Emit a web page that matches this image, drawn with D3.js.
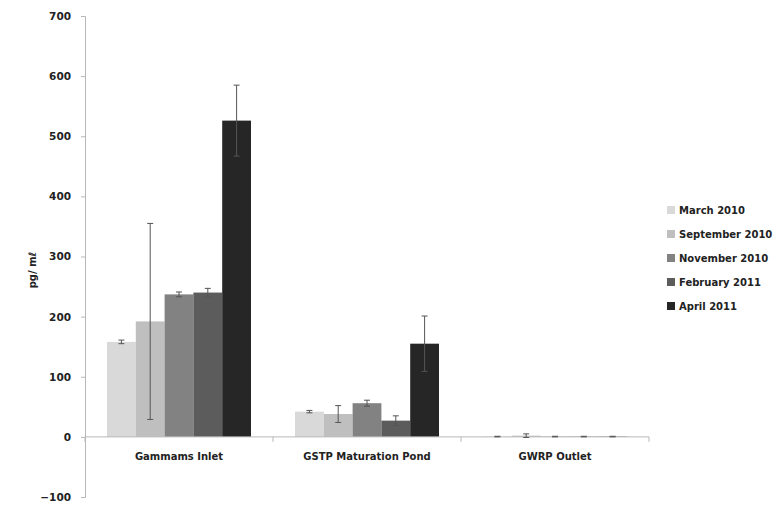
<!DOCTYPE html>
<html>
<head>
<meta charset="utf-8">
<script src="https://cdn.jsdelivr.net/npm/d3@7"></script>
<style>
  body { margin: 0; background: #fff; }
  text { font-family: "DejaVu Sans", sans-serif; font-weight: 700; fill: #222; }
</style>
</head>
<body>
<div id="chart"></div>
<script>
var sites = ["Gammams Inlet", "GSTP Maturation Pond", "GWRP Outlet"];
var periods = ["March 2010", "September 2010", "November 2010", "February 2011", "April 2011"];
var colours = ["#d9d9d9", "#bfbfbf", "#828282", "#5c5c5c", "#262626"];
// values per period, one entry per site
var march2010 = [158, 42, 0.5];
var september2010 = [192, 38, 2];
var november2010 = [237, 56, 0.5];
var february2011 = [240, 27, 0.5];
var april2011 = [526, 155, 0.5];
// error (+/-) per period, one entry per site
var march2010Err = [3, 2, 0.5];
var september2010Err = [163, 14, 3];
var november2010Err = [4, 5, 0.5];
var february2011Err = [7, 8, 0.5];
var april2011Err = [59, 46, 0.5];
var yTicks = [-100, 0, 100, 200, 300, 400, 500, 600, 700];

var values = [march2010, september2010, november2010, february2011, april2011];
var errors = [march2010Err, september2010Err, november2010Err, february2011Err, april2011Err];

var data = [];
sites.forEach(function(s, i) {
  periods.forEach(function(p, j) {
    data.push({site: s, period: p, value: values[j][i], err: errors[j][i], colour: colours[j]});
  });
});

var W = 777, H = 510;
var margin = {top: 16, right: 128, bottom: 13, left: 85};

var svg = d3.select("#chart").append("svg")
    .attr("width", W)
    .attr("height", H);

var x0 = d3.scaleBand()
  .domain(sites)
  .range([margin.left, 649]);

var x1 = d3.scaleBand()
  .domain(periods)
  .range([0, x0.bandwidth()])
  .paddingInner(0)
  .paddingOuter(0.764);

var y = d3.scaleLinear()
  .domain([-100, 700])
  .range([H - margin.bottom, margin.top]);

// y axis
var yAxis = svg.append("g")
  .attr("transform", "translate(" + margin.left + ",0)")
  .call(d3.axisLeft(y).tickValues(yTicks).tickSize(4).tickPadding(10).tickFormat(d3.format("d")));
yAxis.select(".domain").attr("stroke", "#b8b8b8");
yAxis.selectAll(".tick line").attr("stroke", "#b8b8b8");
yAxis.selectAll("text").style("font-size", "10.5px").attr("fill", "#222");

// bars
svg.selectAll(".bar")
  .data(data)
  .enter().append("rect")
  .attr("class", "bar")
  .attr("x", function(d) { return x0(d.site) + x1(d.period); })
  .attr("width", x1.bandwidth())
  .attr("y", function(d) { return y(Math.max(0, d.value)); })
  .attr("height", function(d) { return Math.abs(y(d.value) - y(0)); })
  .attr("fill", function(d) { return d.colour; });

// x axis at zero
var xAxis = svg.append("g")
  .attr("transform", "translate(0," + y(0) + ")");
xAxis.append("line")
  .attr("x1", margin.left).attr("x2", 649)
  .attr("stroke", "#b8b8b8");
xAxis.selectAll(".tk")
  .data(sites.map(function(s) { return x0(s); }).concat([649]))
  .enter().append("line")
  .attr("x1", function(d) { return d; })
  .attr("x2", function(d) { return d; })
  .attr("y1", 0).attr("y2", 5)
  .attr("stroke", "#b8b8b8");
xAxis.selectAll(".lbl")
  .data(sites)
  .enter().append("text")
  .attr("x", function(d) { return x0(d) + x0.bandwidth() / 2; })
  .attr("y", 23)
  .attr("text-anchor", "middle")
  .style("font-size", "10px")
  .text(function(d) { return d; });

// error bars
var eb = svg.selectAll(".err")
  .data(data)
  .enter().append("g")
  .attr("class", "err")
  .attr("stroke", "#555")
  .attr("stroke-width", 1);
function cx(d) { return x0(d.site) + x1(d.period) + x1.bandwidth() / 2; }
eb.append("line")
  .attr("x1", cx).attr("x2", cx)
  .attr("y1", function(d) { return y(d.value + d.err); })
  .attr("y2", function(d) { return y(d.value - d.err); });
eb.append("line")
  .attr("x1", function(d) { return cx(d) - 3; })
  .attr("x2", function(d) { return cx(d) + 3; })
  .attr("y1", function(d) { return y(d.value + d.err); })
  .attr("y2", function(d) { return y(d.value + d.err); });
eb.append("line")
  .attr("x1", function(d) { return cx(d) - 3; })
  .attr("x2", function(d) { return cx(d) + 3; })
  .attr("y1", function(d) { return y(d.value - d.err); })
  .attr("y2", function(d) { return y(d.value - d.err); });

// y label
svg.append("text")
  .attr("transform", "translate(36," + 270 + ") rotate(-90)")
  .attr("text-anchor", "middle")
  .style("font-size", "10px")
  .text("pg/ mℓ");

// legend
var legend = svg.selectAll(".legend")
  .data(periods)
  .enter().append("g")
  .attr("class", "legend")
  .attr("transform", function(d, i) { return "translate(667," + (210 + i * 24) + ")"; });
legend.append("rect")
  .attr("x", 0).attr("y", -4)
  .attr("width", 8).attr("height", 8)
  .attr("fill", function(d, i) { return colours[i]; });
legend.append("text")
  .attr("x", 12)
  .attr("y", 4)
  .style("font-size", "10px")
  .text(function(d) { return d; });
</script>
</body>
</html>
